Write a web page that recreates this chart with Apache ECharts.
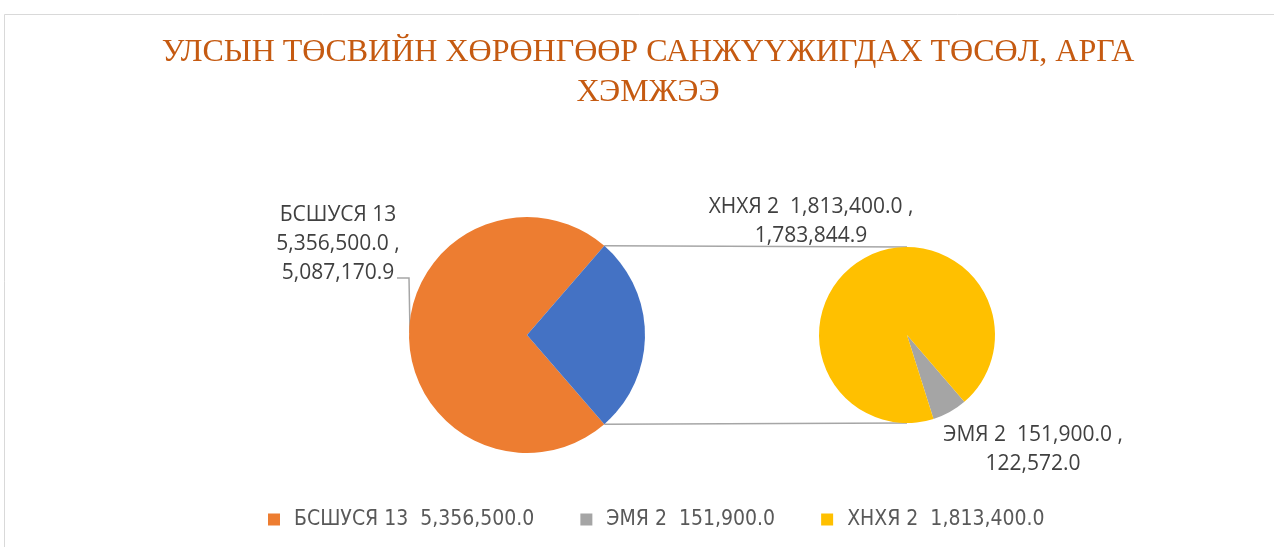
<!DOCTYPE html>
<html>
<head>
<meta charset="utf-8">
<script src="https://cdn.jsdelivr.net/npm/echarts@6/dist/echarts.min.js"></script>
<style>
  html, body { margin: 0; padding: 0; background: #fff; }
  #chart { width: 1274px; height: 547px; }
</style>
</head>
<body>
<div id="chart"></div>
<script>
// Data
var titleText = 'УЛСЫН ТӨСВИЙН ХӨРӨНГӨӨР САНЖҮҮЖИГДАХ ТӨСӨЛ, АРГА\nХЭМЖЭЭ';
var categories = ['БСШУСЯ 13  5,356,500.0', 'ЭМЯ 2  151,900.0', 'ХНХЯ 2  1,813,400.0'];
var performance = [5087170.9, 122572.0, 1783844.9];
var labelTexts = [
    'БСШУСЯ 13\n5,356,500.0 ,\n5,087,170.9',
    'ЭМЯ 2  151,900.0 ,\n122,572.0',
    'ХНХЯ 2  1,813,400.0 ,\n1,783,844.9'
];
var colors = ['#ED7D31', '#A5A5A5', '#FFC000'];
var otherColor = '#4472C4';

var myChart = echarts.init(document.getElementById('chart'), null, { renderer: 'canvas' });

// Pie geometry
var mainCenter = [527, 335], mainRadius = 118;
var subCenter = [907, 335], subRadius = 88;

var otherValue = performance[1] + performance[2];
var total = performance[0] + otherValue;
// half of the "other" wedge, in degrees, centred on 3 o'clock
var half = otherValue / total * 180;

var labelFont = { fontFamily: 'Open Sans', fontSize: 21, color: '#404040', lineHeight: 29 };

// Connector lines from the blue wedge edges to the top / bottom of the second pie
var rad = half * Math.PI / 180;
var p1 = [mainCenter[0] + mainRadius * Math.cos(rad), mainCenter[1] - mainRadius * Math.sin(rad)];
var p2 = [mainCenter[0] + mainRadius * Math.cos(rad), mainCenter[1] + mainRadius * Math.sin(rad)];

var option = {
    animation: false,
    backgroundColor: '#fff',
    title: {
        text: titleText,
        left: 643,
        textAlign: 'center',
        top: 28,
        textStyle: {
            fontFamily: 'Liberation Serif',
            fontWeight: 'normal',
            fontSize: 32,
            lineHeight: 40,
            color: '#C55A11'
        }
    },
    legend: {
        data: categories,
        top: 504,
        left: 263,
        icon: 'rect',
        itemWidth: 12,
        itemHeight: 12,
        itemGap: 46,
        textStyle: {
            fontFamily: 'Liberation Sans Narrow, DejaVu Sans Condensed, sans-serif',
            fontSize: 21,
            color: '#595959',
            padding: [0, 0, 0, 9]
        }
    },
    graphic: [
        {
            type: 'rect',
            shape: { x: 4.5, y: 14.5, width: 1400, height: 700 },
            style: { fill: 'none', stroke: '#d9d9d9', lineWidth: 1 },
            silent: true
        },
        {
            type: 'line',
            shape: { x1: p1[0], y1: p1[1], x2: subCenter[0], y2: subCenter[1] - subRadius },
            style: { stroke: '#a6a6a6', lineWidth: 1.5 },
            silent: true
        },
        {
            type: 'line',
            shape: { x1: p2[0], y1: p2[1], x2: subCenter[0], y2: subCenter[1] + subRadius },
            style: { stroke: '#a6a6a6', lineWidth: 1.5 },
            silent: true
        }
    ],
    series: [
        {
            name: 'main',
            type: 'pie',
            center: mainCenter,
            radius: mainRadius,
            startAngle: 360 - half,
            clockwise: true,
            label: Object.assign({ show: true, position: 'outside', align: 'center' }, labelFont),
            labelLine: { show: true, lineStyle: { color: '#a6a6a6', width: 1.5 } },
            labelLayout: function (params) {
                if (params.dataIndex === 0) {
                    return {
                        x: 338, y: 244, align: 'center', verticalAlign: 'middle',
                        labelLinePoints: [[397, 278], [409, 278], [410, 333]]
                    };
                }
            },
            emphasis: { disabled: true },
            data: [
                {
                    name: categories[0], value: performance[0],
                    itemStyle: { color: colors[0] },
                    label: { formatter: labelTexts[0] }
                },
                {
                    name: 'Бусад', value: otherValue,
                    itemStyle: { color: otherColor },
                    label: { show: false }, labelLine: { show: false }
                }
            ]
        },
        {
            name: 'sub',
            type: 'pie',
            center: subCenter,
            radius: subRadius,
            startAngle: 310.7,
            clockwise: true,
            label: Object.assign({ show: true, position: 'outside', align: 'center' }, labelFont),
            labelLine: { show: false },
            labelLayout: function (params) {
                if (params.dataIndex === 0) {
                    return { x: 1033, y: 450, align: 'center', verticalAlign: 'middle' };
                }
                return { x: 811, y: 222, align: 'center', verticalAlign: 'middle' };
            },
            emphasis: { disabled: true },
            data: [
                {
                    name: categories[1], value: performance[1],
                    itemStyle: { color: colors[1] },
                    label: { formatter: labelTexts[1] }
                },
                {
                    name: categories[2], value: performance[2],
                    itemStyle: { color: colors[2] },
                    label: { formatter: labelTexts[2] }
                }
            ]
        }
    ]
};

myChart.setOption(option);
</script>
</body>
</html>
